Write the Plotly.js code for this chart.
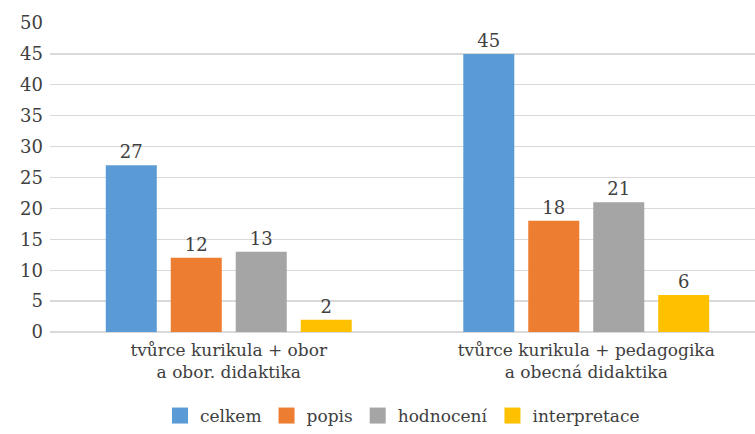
<!DOCTYPE html>
<html>
<head>
<meta charset="utf-8">
<script src="https://cdn.plot.ly/plotly-3.0.1.min.js"></script>
<style>
  html, body { margin: 0; padding: 0; background: #fff; }
  #chart { width: 755px; height: 434px; }
</style>
</head>
<body>
<div id="chart"></div>
<script>
const categories = ['tvůrce kurikula + obor<br>a obor. didaktika', 'tvůrce kurikula + pedagogika<br>a obecná didaktika'];
const seriesNames = ['celkem', 'popis', 'hodnocení', 'interpretace'];
const celkem = [27, 45];
const popis = [12, 18];
const hodnoceni = [13, 21];
const interpretace = [2, 6];
const yTicks = [0, 5, 10, 15, 20, 25, 30, 35, 40, 45, 50];

const COLORS = ['#5B9BD5', '#ED7D31', '#A5A5A5', '#FFC000'];
// only DejaVu Serif shows up as a serif face inside the plotly svg here
const FONT = 'DejaVu Serif';
const TEXT = '#404040';

const values = [celkem, popis, hodnoceni, interpretace];
const traces = values.map((v, i) => ({
    type: 'bar',
    name: seriesNames[i],
    x: [0, 1],
    y: v,
    text: v.map(String),
    textposition: 'outside',
    cliponaxis: false,
    textfont: { family: FONT, size: 18, color: TEXT },
    marker: { color: COLORS[i], line: { width: 0 } },
    showlegend: false,
    hoverinfo: 'skip'
}));

// legend only entries, square swatches like the original
seriesNames.forEach((name, i) => {
    traces.push({
        type: 'scatter',
        mode: 'markers',
        name: name,
        x: [null],
        y: [null],
        marker: { symbol: 'square', size: 16, color: COLORS[i] },
        showlegend: true,
        hoverinfo: 'skip'
    });
});

const layout = {
    width: 755,
    height: 434,
    margin: { l: 50, r: 0, t: 23, b: 101 },
    paper_bgcolor: '#fff',
    plot_bgcolor: '#fff',
    font: { family: FONT, size: 17, color: TEXT },
    barmode: 'group',
    bargap: 0.273,
    bargroupgap: 0.215,
    showlegend: true,
    legend: {
        orientation: 'h',
        x: 0.5, xref: 'paper', xanchor: 'center',
        y: -0.27, yanchor: 'middle',
        font: { family: FONT, size: 17, color: TEXT },
        itemwidth: 30,
        traceorder: 'normal'
    },
    xaxis: {
        range: [-0.5, 1.472],
        tickvals: [0, 1],
        ticktext: categories,
        tickfont: { family: FONT, size: 17, color: TEXT },
        showgrid: false,
        zeroline: false,
        showline: false,
        ticks: '',
        ticklabelstandoff: 6,
        fixedrange: true
    },
    yaxis: {
        range: [0, 50],
        tickvals: yTicks,
        tickfont: { family: FONT, size: 18, color: TEXT },
        showgrid: true,
        gridcolor: '#D9D9D9',
        gridwidth: 1.3,
        zeroline: true,
        zerolinecolor: '#D9D9D9',
        zerolinewidth: 1.5,
        showline: false,
        ticks: '',
        ticklabelstandoff: 6,
        fixedrange: true
    }
};

Plotly.newPlot('chart', traces, layout, { displayModeBar: false, staticPlot: true });
</script>
</body>
</html>
